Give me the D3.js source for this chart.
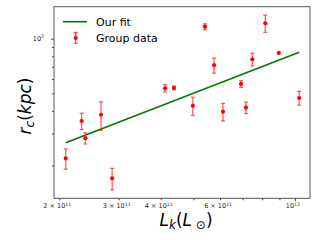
<!DOCTYPE html>
<html>
<head>
<meta charset="utf-8">
<script src="https://cdn.jsdelivr.net/npm/d3@7"></script>
<style>
  body { margin: 0; background: #fff; }
  text { font-family: "DejaVu Sans", sans-serif; }
</style>
</head>
<body>
<svg width="320" height="240"></svg>
<script>
// group luminosities (L_sun), core radii (kpc) and their errors
const lum = [2.09e11, 2.33e11, 2.39e11, 2.66e11, 2.87e11, 4.12e11, 4.38e11, 4.98e11, 5.41e11,
  5.76e11, 6.12e11, 6.92e11, 7.16e11, 7.48e11, 8.17e11, 8.96e11, 1.03e12]
const rc = [21.9, 35.2, 28.3, 38.1, 17.0, 53.3, 53.5, 42.7, 116.4,
  71.4, 39.6, 56.3, 41.7, 77.0, 121.6, 83.4, 47.1]
const rcErr = [2.8, 3.6, 2.0, 6.8, 2.3, 2.5, 1.2, 4.9, 4.4,
  6.8, 4.4, 2.4, 3.0, 6.2, 13.3, 0, 4.1]

// fitted power law, end points
const fitLum = [2.09e11, 1.03e12]
const fitRc = [26.7, 84.2]

// tick values and labels
const xLabelled = [[2e11, "2", "11"], [3e11, "3", "11"], [4e11, "4", "11"], [6e11, "6", "11"], [1e12, null, "12"]]
const xMinorOnly = [5e11, 7e11, 8e11, 9e11]
const yMinor = [20, 30, 40, 50, 60, 70, 80, 90]

const svg = d3.select("svg")
const mLeft = 54, mRight = 310, mTop = 6.7, mBottom = 198.3

const xScale = d3.scaleLog().domain([1.929e11, 1.109e12]).range([mLeft, mRight])
const yScale = d3.scaleLog().domain([13.2, 150]).range([mBottom, mTop])

const data = lum.map((d, i) => ({ l: d, r: rc[i], e: rcErr[i] }))

// axes
const xAxis = svg.append("g").attr("transform", `translate(0,${mBottom})`)
  .call(d3.axisBottom(xScale).tickValues(xLabelled.map(d => d[0]).concat(xMinorOnly)).tickFormat("")
    .tickSize(2).tickSizeOuter(0))
xAxis.select(".domain").remove()
xAxis.selectAll(".tick line").attr("stroke", "#444")
  .attr("y2", d => d === 1e12 ? 3 : 2)

xAxis.selectAll(".tick text").remove()
xLabelled.forEach(([v, m, p]) => {
  const t = xAxis.append("text")
    .attr("x", xScale(v) - 2)
    .attr("y", 10)
    .attr("text-anchor", "middle")
    .style("font-size", "6.5px")
    .attr("fill", "#222")
  t.append("tspan").text(m ? `${m} × 10` : "10")
  t.append("tspan").attr("dy", -2.5).style("font-size", "4.6px").text(p)
})

const yAxis = svg.append("g").attr("transform", `translate(${mLeft},0)`)
  .call(d3.axisLeft(yScale).tickValues([100].concat(yMinor)).tickFormat("").tickSize(2).tickSizeOuter(0))
yAxis.select(".domain").remove()
yAxis.selectAll(".tick line").attr("stroke", "#444")
  .attr("x2", d => d === 100 ? -3 : -2)
const yl = yAxis.append("text")
  .attr("x", -10).attr("y", yScale(100) + 2.3)
  .attr("text-anchor", "end")
  .style("font-size", "6.5px").attr("fill", "#222")
yl.append("tspan").text("10")
yl.append("tspan").attr("dy", -2.5).style("font-size", "4.6px").text("2")

// frame
svg.append("rect")
  .attr("x", mLeft).attr("y", mTop)
  .attr("width", mRight - mLeft).attr("height", mBottom - mTop)
  .attr("fill", "none").attr("stroke", "#555").attr("stroke-width", 1)

// fit line
svg.append("line")
  .attr("x1", xScale(fitLum[0])).attr("y1", yScale(fitRc[0]))
  .attr("x2", xScale(fitLum[1])).attr("y2", yScale(fitRc[1]))
  .attr("stroke", "#007a00").attr("stroke-width", 1.6)

// error bars
const bars = svg.append("g").selectAll("g")
  .data(data.filter(d => d.e > 0))
  .enter()
  .append("g")
  .attr("stroke", "#ff2020").attr("stroke-opacity", 0.7).attr("stroke-width", 1.3)

bars.append("line")
  .attr("x1", d => xScale(d.l)).attr("x2", d => xScale(d.l))
  .attr("y1", d => yScale(d.r + d.e)).attr("y2", d => yScale(d.r - d.e))
bars.append("line")
  .attr("x1", d => xScale(d.l) - 2).attr("x2", d => xScale(d.l) + 2)
  .attr("y1", d => yScale(d.r + d.e)).attr("y2", d => yScale(d.r + d.e))
bars.append("line")
  .attr("x1", d => xScale(d.l) - 2).attr("x2", d => xScale(d.l) + 2)
  .attr("y1", d => yScale(d.r - d.e)).attr("y2", d => yScale(d.r - d.e))

svg.append("g").selectAll("circle")
  .data(data)
  .enter()
  .append("circle")
  .attr("cx", d => xScale(d.l))
  .attr("cy", d => yScale(d.r))
  .attr("r", 2.1)
  .style("fill", "red")

// legend
const leg = svg.append("g")
leg.append("line").attr("x1", 63).attr("x2", 87).attr("y1", 21.7).attr("y2", 21.7)
  .attr("stroke", "#007a00").attr("stroke-width", 1.6)
leg.append("text").attr("x", 96).attr("y", 25.6).style("font-size", "11px").text("Our fit")
const lb = leg.append("g").attr("stroke", "#ff2020").attr("stroke-opacity", 0.8).attr("stroke-width", 1.3)
lb.append("line").attr("x1", 75.7).attr("x2", 75.7).attr("y1", 32.5).attr("y2", 43.3)
lb.append("line").attr("x1", 73.7).attr("x2", 77.7).attr("y1", 32.5).attr("y2", 32.5)
lb.append("line").attr("x1", 73.7).attr("x2", 77.7).attr("y1", 43.3).attr("y2", 43.3)
leg.append("circle").attr("cx", 75.7).attr("cy", 38).attr("r", 2.1).style("fill", "red")
leg.append("text").attr("x", 96).attr("y", 42).style("font-size", "11px").text("Group data")

// axis titles
const xt = svg.append("text")
  .attr("x", 186).attr("y", 226)
  .attr("text-anchor", "middle")
  .style("font-size", "17px")
xt.append("tspan").style("font-style", "italic").text("L")
xt.append("tspan").style("font-style", "italic").style("font-size", "12px").attr("dy", 3).text("k")
xt.append("tspan").attr("dy", -3).text("(")
xt.append("tspan").style("font-style", "italic").text("L")
xt.append("tspan").style("font-size", "12px").attr("dy", 3).text(" ⊙")
xt.append("tspan").attr("dy", -3).text(")")

const yt = svg.append("text")
  .attr("transform", "translate(31,106) rotate(-90)")
  .attr("text-anchor", "middle")
  .style("font-size", "17px")
yt.append("tspan").style("font-style", "italic").text("r")
yt.append("tspan").style("font-style", "italic").style("font-size", "12px").attr("dy", 3).text("c")
yt.append("tspan").attr("dy", -3).text("(")
yt.append("tspan").style("font-style", "italic").text("kpc")
yt.append("tspan").text(")")
</script>
</body>
</html>
